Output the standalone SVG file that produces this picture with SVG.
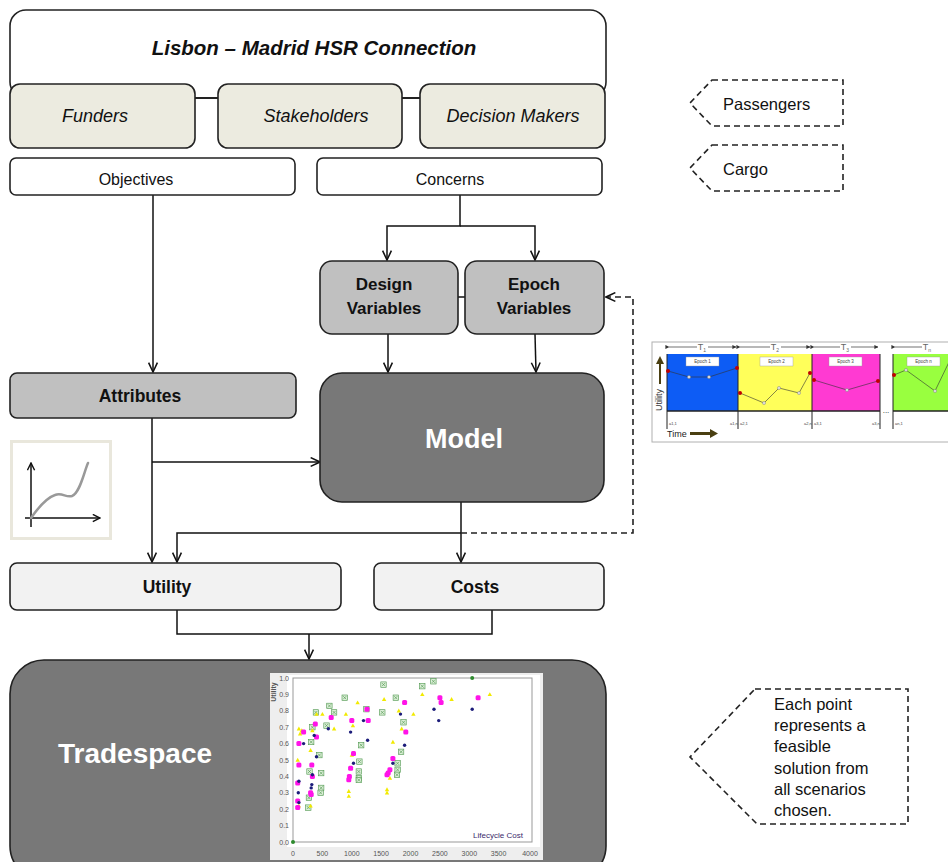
<svg xmlns="http://www.w3.org/2000/svg" width="948" height="862" viewBox="0 0 948 862">
  <style>
    .box { stroke: #222; stroke-width: 1.6; }
    .white { fill: #ffffff; }
    .beige { fill: #ecebe0; }
    .grey { fill: #c0c0c0; }
    .light { fill: #f2f2f2; }
    .dark { fill: #787878; }
    .t { font-family: "Liberation Sans", Arial, sans-serif; fill: #111; text-anchor: middle; }
    .it { font-style: italic; font-size: 18px; }
    .b { font-weight: bold; }
    .wt { fill: #ffffff; font-weight: bold; }
    .conn { fill: none; stroke: #111; stroke-width: 1.5; }
    .dash { fill: none; stroke: #222; stroke-width: 1.6; stroke-dasharray: 6 4; }
    .note { font-family: "Liberation Sans", Arial, sans-serif; fill: #111; font-size: 16.5px; }
    .ax { font-family: "Liberation Sans", Arial, sans-serif; fill: #555; font-size: 7px; text-anchor: middle; }
    .tiny { font-family: "Liberation Sans", Arial, sans-serif; fill: #444; font-size: 4.5px; text-anchor: middle; }
  </style>
  <defs>
    <marker id="arr" viewBox="0 0 10 10" refX="9.5" refY="5" markerWidth="11" markerHeight="11" markerUnits="userSpaceOnUse" orient="auto">
      <path d="M1,1 L9.5,5 L1,9" fill="none" stroke="#111" stroke-width="1.4"/>
    </marker>
    <marker id="arrSmall" viewBox="0 0 10 10" refX="9" refY="5" markerWidth="9" markerHeight="9" markerUnits="userSpaceOnUse" orient="auto">
      <path d="M1,1 L9,5 L1,9" fill="none" stroke="#111" stroke-width="1.6"/>
    </marker>
    <marker id="tArr" viewBox="0 0 10 10" refX="9" refY="5" markerWidth="4" markerHeight="4" markerUnits="userSpaceOnUse" orient="auto">
      <path d="M0,0 L10,5 L0,10Z" fill="#333"/>
    </marker>
    <!-- scatter symbols -->
    <path id="py" d="M-2.2,1.7 L0,-2.2 L2.2,1.7Z" fill="#f2ea00"/>
    <rect id="pm" x="-2.5" y="-2.5" width="5" height="5" rx="1.5" fill="#ff14e8"/>
    <circle id="pn" r="1.7" fill="#1c1c7a"/>
    <g id="pg">
      <rect x="-2.7" y="-2.7" width="5.4" height="5.4" fill="#dcefd8" stroke="#4a944a" stroke-width="0.6"/>
      <path d="M-1.6,-1.6 L1.6,1.6 M1.6,-1.6 L-1.6,1.6" stroke="#4a944a" stroke-width="0.6"/>
    </g>
    <clipPath id="epochClip"><rect x="650" y="338" width="298" height="110"/></clipPath>
    <clipPath id="chartClip"><rect x="270" y="673" width="273" height="187"/></clipPath>
  </defs>

  <!-- header -->
  <g id="header">
    <rect class="box white" x="10" y="10" width="596" height="88" rx="16"/>
    <text class="t b" x="314" y="55" font-size="20.5" font-style="italic">Lisbon – Madrid HSR Connection</text>
  </g>

  <g id="connectors">
    <!-- peer links in the header row -->
    <line class="conn" x1="195" y1="98" x2="218" y2="98"/>
    <line class="conn" x1="402" y1="98" x2="420" y2="98"/>
    <!-- objectives to attributes -->
    <line class="conn" x1="153" y1="195" x2="153" y2="372" marker-end="url(#arr)"/>
    <!-- concerns split -->
    <polyline class="conn" points="460,195 460,226 387,226 387,260" marker-end="url(#arr)"/>
    <polyline class="conn" points="460,226 535,226 535,260" marker-end="url(#arr)"/>
    <line class="conn" x1="458" y1="297" x2="465" y2="297"/>
    <!-- variables to model -->
    <line class="conn" x1="388" y1="334" x2="388" y2="372" marker-end="url(#arr)"/>
    <line class="conn" x1="535" y1="334" x2="536" y2="372" marker-end="url(#arr)"/>
    <!-- attributes to utility and model -->
    <line class="conn" x1="152" y1="418" x2="152" y2="562" marker-end="url(#arr)"/>
    <line class="conn" x1="152" y1="462" x2="320" y2="462" marker-end="url(#arr)"/>
    <!-- model to costs and utility -->
    <line class="conn" x1="461" y1="502" x2="461" y2="562" marker-end="url(#arr)"/>
    <polyline class="conn" points="461,533 177,533 177,562" marker-end="url(#arr)"/>
    <!-- feedback to epoch variables -->
    <polyline class="dash" points="461,533 633,533 633,297 606,297" marker-end="url(#arr)"/>
    <!-- utility and costs to tradespace -->
    <polyline class="conn" points="177,610 177,634 492,634 492,610"/>
    <line class="conn" x1="309" y1="634" x2="309" y2="659" marker-end="url(#arr)"/>
  </g>

  <g id="funders">
    <rect class="box beige" x="10" y="84" width="185" height="64" rx="10"/>
    <text class="t it" x="95" y="122">Funders</text>
  </g>
  <g id="stakeholders">
    <rect class="box beige" x="218" y="84" width="184" height="64" rx="10"/>
    <text class="t it" x="316" y="122">Stakeholders</text>
  </g>
  <g id="decision-makers">
    <rect class="box beige" x="420" y="84" width="185" height="64" rx="10"/>
    <text class="t it" x="513" y="122">Decision Makers</text>
  </g>

  <g id="objectives">
    <rect class="box white" x="10" y="158" width="285" height="37" rx="6"/>
    <text class="t" x="136" y="185" font-size="16">Objectives</text>
  </g>
  <g id="concerns">
    <rect class="box white" x="317" y="158" width="285" height="37" rx="6"/>
    <text class="t" x="450" y="185" font-size="16">Concerns</text>
  </g>

  <g id="design-variables">
    <rect class="box grey" x="320" y="261" width="138" height="73" rx="12"/>
    <text class="t b" x="384" y="290" font-size="17">Design</text>
    <text class="t b" x="384" y="314" font-size="17">Variables</text>
  </g>
  <g id="epoch-variables">
    <rect class="box grey" x="465" y="261" width="139" height="73" rx="12"/>
    <text class="t b" x="534" y="290" font-size="17">Epoch</text>
    <text class="t b" x="534" y="314" font-size="17">Variables</text>
  </g>

  <g id="attributes">
    <rect class="box grey" x="10" y="373" width="286" height="45" rx="7"/>
    <text class="t b" x="140" y="402" font-size="17.5">Attributes</text>
  </g>

  <g id="model">
    <rect class="box dark" x="320" y="373" width="284" height="129" rx="22"/>
    <text class="t wt" x="464" y="448" font-size="27">Model</text>
  </g>

  <!-- value function sketch -->
  <g id="value-curve">
    <rect x="11.5" y="441.5" width="99" height="97" fill="#ffffff" stroke="#e9e7dc" stroke-width="3"/>
    <line x1="31" y1="527" x2="31" y2="463" stroke="#111" stroke-width="1.5" marker-end="url(#arrSmall)"/>
    <line x1="25" y1="518" x2="100" y2="518" stroke="#111" stroke-width="1.5" marker-end="url(#arrSmall)"/>
    <path d="M31,518 C38,508 46,498 55,495 C62,492 66,498 72,496 C80,493 84,472 88,463" fill="none" stroke="#999" stroke-width="2.5" stroke-linecap="round"/>
  </g>

  <g id="utility">
    <rect class="box light" x="10" y="563" width="331" height="47" rx="7"/>
    <text class="t b" x="167" y="593" font-size="17.5">Utility</text>
  </g>
  <g id="costs">
    <rect class="box light" x="374" y="563" width="230" height="47" rx="7"/>
    <text class="t b" x="475" y="593" font-size="17.5">Costs</text>
  </g>

  <g id="tradespace">
    <rect class="box dark" x="10" y="660" width="596" height="220" rx="34"/>
    <text class="t wt" x="135" y="763" font-size="28">Tradespace</text>
    <!-- embedded scatter chart -->
    <g clip-path="url(#chartClip)">
      <rect x="270" y="673" width="273" height="190" fill="#eeeeee"/>
      <rect x="287" y="675" width="253" height="172" fill="#ffffff"/>
      <rect x="293" y="678" width="239" height="164" fill="none" stroke="#999" stroke-width="1"/>
      <g class="ax" text-anchor="end">
        <text x="289" y="680.5" text-anchor="end">1.0</text>
        <text x="289" y="696.9" text-anchor="end">0.9</text>
        <text x="289" y="713.3" text-anchor="end">0.8</text>
        <text x="289" y="729.7" text-anchor="end">0.7</text>
        <text x="289" y="746.1" text-anchor="end">0.6</text>
        <text x="289" y="762.5" text-anchor="end">0.5</text>
        <text x="289" y="778.9" text-anchor="end">0.4</text>
        <text x="289" y="795.3" text-anchor="end">0.3</text>
        <text x="289" y="811.7" text-anchor="end">0.2</text>
        <text x="289" y="828.1" text-anchor="end">0.1</text>
        <text x="289" y="844.5" text-anchor="end">0.0</text>
      </g>
      <g class="ax">
        <text x="293" y="856">0</text>
        <text x="322.4" y="856">500</text>
        <text x="351.8" y="856">1000</text>
        <text x="381.1" y="856">1500</text>
        <text x="410.5" y="856">2000</text>
        <text x="439.9" y="856">2500</text>
        <text x="469.3" y="856">3000</text>
        <text x="498.6" y="856">3500</text>
        <text x="530" y="856">4000</text>
      </g>
      <text class="ax" x="276" y="692" font-weight="bold" fill="#888" transform="rotate(-90 276 692)">Utility</text>
      <text x="498" y="838" font-family="Liberation Sans, Arial, sans-serif" font-size="8" fill="#3a2a6a" text-anchor="middle">Lifecycle Cost</text>

      <g id="pts-green">
        <use href="#pg" x="308.3" y="807.6"/><use href="#pg" x="309.5" y="771.5"/><use href="#pg" x="308.9" y="797.7"/>
        <use href="#pg" x="311.2" y="742"/><use href="#pg" x="312.4" y="727.2"/><use href="#pg" x="315.9" y="712.4"/>
        <use href="#pg" x="319.4" y="755.1"/><use href="#pg" x="321.2" y="773.1"/><use href="#pg" x="321.2" y="787.9"/>
        <use href="#pg" x="320.6" y="792.8"/><use href="#pg" x="326.5" y="725.6"/><use href="#pg" x="329.4" y="705.9"/>
        <use href="#pg" x="334.1" y="712.4"/><use href="#pg" x="344.7" y="697.7"/><use href="#pg" x="359.4" y="761.6"/>
        <use href="#pg" x="358.8" y="771.5"/><use href="#pg" x="358.8" y="778"/><use href="#pg" x="358.8" y="780"/>
        <use href="#pg" x="361.2" y="745.2"/><use href="#pg" x="366.4" y="709.2"/><use href="#pg" x="382.3" y="712.4"/>
        <use href="#pg" x="383.5" y="684.6"/><use href="#pg" x="395.8" y="697.7"/><use href="#pg" x="397.6" y="763.3"/>
        <use href="#pg" x="397.6" y="769.8"/><use href="#pg" x="397" y="774.8"/><use href="#pg" x="401.1" y="751.8"/>
        <use href="#pg" x="403.5" y="722.3"/><use href="#pg" x="422.3" y="686.2"/><use href="#pg" x="433.4" y="681.3"/>
        <circle cx="472.2" cy="678" r="2" fill="#2e8b2e"/><circle cx="293" cy="842" r="2" fill="#2e8b2e"/>
      </g>
      <g id="pts-yellow">
        <use href="#py" x="298.9" y="728.8"/><use href="#py" x="300.1" y="733.8"/><use href="#py" x="297.7" y="760"/>
        <use href="#py" x="298.9" y="805.9"/><use href="#py" x="310.6" y="750.2"/><use href="#py" x="312.4" y="730.5"/>
        <use href="#py" x="316.5" y="714.1"/><use href="#py" x="322.4" y="714.1"/><use href="#py" x="334.1" y="728.8"/>
        <use href="#py" x="345.9" y="714.1"/><use href="#py" x="351.8" y="755.1"/><use href="#py" x="352.9" y="725.6"/>
        <use href="#py" x="357.6" y="702.6"/><use href="#py" x="348.8" y="791.2"/><use href="#py" x="348.8" y="796.1"/>
        <use href="#py" x="384.1" y="699.3"/><use href="#py" x="387" y="789.5"/><use href="#py" x="387" y="792.8"/>
        <use href="#py" x="389.9" y="778"/><use href="#py" x="392.9" y="742"/><use href="#py" x="398.8" y="710.8"/>
        <use href="#py" x="401.7" y="728.8"/><use href="#py" x="413.4" y="714.1"/><use href="#py" x="422.3" y="694.4"/>
        <use href="#py" x="451.6" y="699.3"/><use href="#py" x="489.8" y="694.4"/><use href="#py" x="310.6" y="805.9"/>
        <use href="#py" x="301.8" y="730.5"/>
      </g>
      <g id="pts-magenta">
        <use href="#pm" x="298.9" y="743.6"/><use href="#pm" x="298.9" y="764.9"/><use href="#pm" x="297.7" y="783"/>
        <use href="#pm" x="297.7" y="801"/><use href="#pm" x="297.7" y="807.6"/><use href="#pm" x="303.6" y="732.1"/>
        <use href="#pm" x="311.8" y="764.9"/><use href="#pm" x="312.4" y="776.4"/><use href="#pm" x="310.6" y="792.8"/>
        <use href="#pm" x="311.2" y="794.4"/><use href="#pm" x="315.3" y="723.9"/><use href="#pm" x="316.5" y="737"/>
        <use href="#pm" x="331.2" y="717.4"/><use href="#pm" x="351.8" y="720.6"/><use href="#pm" x="353.5" y="753.4"/>
        <use href="#pm" x="350.6" y="768.2"/><use href="#pm" x="349.4" y="776.4"/><use href="#pm" x="348.8" y="779.7"/>
        <use href="#pm" x="367" y="709.2"/><use href="#pm" x="368.2" y="720.6"/><use href="#pm" x="389.9" y="769.8"/>
        <use href="#pm" x="388.2" y="773.1"/><use href="#pm" x="387" y="774.8"/><use href="#pm" x="392.9" y="758.4"/>
        <use href="#pm" x="404.6" y="702.6"/><use href="#pm" x="405.8" y="732.1"/><use href="#pm" x="439.9" y="697.7"/>
        <use href="#pm" x="441.1" y="702.6"/><use href="#pm" x="478.1" y="697.7"/>
      </g>
      <g id="pts-navy">
        <use href="#pn" x="298.9" y="781.3"/><use href="#pn" x="298.3" y="792.8"/><use href="#pn" x="298.9" y="802.6"/>
        <use href="#pn" x="303.6" y="743.6"/><use href="#pn" x="312.4" y="774.8"/><use href="#pn" x="311.8" y="784.6"/>
        <use href="#pn" x="311.2" y="787.9"/><use href="#pn" x="316.5" y="756.7"/><use href="#pn" x="314.2" y="735.4"/>
        <use href="#pn" x="328.3" y="728.8"/><use href="#pn" x="350.6" y="732.1"/><use href="#pn" x="353.5" y="763.3"/>
        <use href="#pn" x="363.5" y="720.6"/><use href="#pn" x="367.6" y="740.3"/><use href="#pn" x="392.9" y="763.3"/>
        <use href="#pn" x="400.5" y="714.1"/><use href="#pn" x="404.6" y="745.2"/><use href="#pn" x="434" y="709.2"/>
        <use href="#pn" x="438.7" y="720.6"/><use href="#pn" x="472.2" y="709.2"/>
      </g>
    </g>
  </g>

  <!-- callouts -->
  <g id="passengers">
    <polygon class="dash" points="712,80 843,80 843,126 712,126 690,103"/>
    <text class="note" x="723" y="110">Passengers</text>
  </g>
  <g id="cargo">
    <polygon class="dash" points="712,145 843,145 843,191 712,191 690,168"/>
    <text class="note" x="723" y="175">Cargo</text>
  </g>
  <g id="tradespace-note">
    <polygon class="dash" points="755,689 908,689 908,824 757,824 690,757"/>
    <text class="note" x="774" y="710">Each point</text>
    <text class="note" x="774" y="731">represents a</text>
    <text class="note" x="774" y="752">feasible</text>
    <text class="note" x="774" y="774">solution from</text>
    <text class="note" x="774" y="795">all scenarios</text>
    <text class="note" x="774" y="816">chosen.</text>
  </g>

  <!-- epoch-era timeline -->
  <g id="epoch-timeline" clip-path="url(#epochClip)">
    <rect x="652" y="342" width="310" height="100" fill="#ffffff" stroke="#b0b0b0" stroke-width="1"/>
    <rect x="667" y="354" width="71" height="57" fill="#0d5cf5"/>
    <rect x="738" y="354" width="74" height="57" fill="#ffff5a"/>
    <rect x="812" y="354" width="68" height="57" fill="#ff3ad2"/>
    <rect x="893" y="354" width="70" height="57" fill="#99ff3f"/>
    <g stroke="#222" stroke-width="1">
      <line x1="667" y1="354" x2="667" y2="429"/>
      <line x1="738" y1="354" x2="738" y2="429"/>
      <line x1="812" y1="354" x2="812" y2="429"/>
      <line x1="880" y1="354" x2="880" y2="429"/>
      <line x1="893" y1="354" x2="893" y2="429"/>
    </g>
    <line x1="667" y1="411" x2="880" y2="411" stroke="#222" stroke-width="1.6"/>
    <line x1="893" y1="411" x2="960" y2="411" stroke="#222" stroke-width="1.6"/>
    <text x="886" y="413" font-family="Liberation Sans, Arial, sans-serif" font-size="8" fill="#222" text-anchor="middle">...</text>
    <!-- period spans -->
    <g stroke="#333" stroke-width="0.7">
      <line x1="669" y1="347" x2="697" y2="347" marker-start="url(#tArr)"/>
      <line x1="708" y1="347" x2="736" y2="347" marker-end="url(#tArr)"/>
      <line x1="740" y1="347" x2="770" y2="347" marker-start="url(#tArr)"/>
      <line x1="781" y1="347" x2="810" y2="347" marker-end="url(#tArr)"/>
      <line x1="814" y1="347" x2="840" y2="347" marker-start="url(#tArr)"/>
      <line x1="851" y1="347" x2="878" y2="347" marker-end="url(#tArr)"/>
      <line x1="895" y1="347" x2="922" y2="347" marker-start="url(#tArr)"/>
    </g>
    <g font-family="Liberation Sans, Arial, sans-serif" font-size="9" fill="#666" text-anchor="middle">
      <text x="702" y="350">T<tspan font-size="5" dy="2">1</tspan></text>
      <text x="775" y="350">T<tspan font-size="5" dy="2">2</tspan></text>
      <text x="845" y="350">T<tspan font-size="5" dy="2">3</tspan></text>
      <text x="927" y="350">T<tspan font-size="5" dy="2">n</tspan></text>
    </g>
    <!-- epoch tags -->
    <g fill="#ffffff" stroke="#999" stroke-width="0.4">
      <rect x="686" y="357" width="33" height="9"/>
      <rect x="760" y="357" width="33" height="9"/>
      <rect x="829" y="357" width="33" height="9"/>
      <rect x="907" y="357" width="33" height="9"/>
    </g>
    <text class="tiny" x="702.5" y="363">Epoch 1</text>
    <text class="tiny" x="776.5" y="363">Epoch 2</text>
    <text class="tiny" x="845.5" y="363">Epoch 3</text>
    <text class="tiny" x="923.5" y="363">Epoch n</text>
    <!-- utility trajectories -->
    <g fill="none" stroke="#333" stroke-width="0.6">
      <polyline points="668,371 689,377 709,377 737,368"/>
      <polyline points="740,393 764,403 779,388 799,393 810,373"/>
      <polyline points="814,380 847,390 878,381"/>
      <polyline points="894,375 906,370 935,391 950,360"/>
    </g>
    <g fill="#c00000">
      <circle cx="668" cy="371" r="2"/><circle cx="737" cy="368" r="2"/>
      <circle cx="740" cy="393" r="2"/><circle cx="810" cy="373" r="2"/>
      <circle cx="814" cy="380" r="2"/><circle cx="878" cy="381" r="2"/>
      <circle cx="894" cy="375" r="2"/>
    </g>
    <g fill="#dddddd" stroke="#777" stroke-width="0.4">
      <circle cx="689" cy="377" r="1.6"/><circle cx="709" cy="377" r="1.6"/>
      <circle cx="764" cy="403" r="1.6"/><circle cx="779" cy="388" r="1.6"/><circle cx="799" cy="393" r="1.6"/>
      <circle cx="847" cy="390" r="1.6"/>
      <circle cx="906" cy="370" r="1.6"/><circle cx="935" cy="391" r="1.6"/>
    </g>
    <!-- axis labels -->
    <path d="M659,384 L659,364 L656,364 L660,356 L664,364 L661,364 L661,384Z" fill="#4a3f12"/>
    <text x="662" y="400" font-family="Liberation Sans, Arial, sans-serif" font-size="9" fill="#333" text-anchor="middle" transform="rotate(-90 662 400)">Utility</text>
    <text x="667" y="437" font-family="Liberation Sans, Arial, sans-serif" font-size="9" fill="#222">Time</text>
    <path d="M690,432 L710,432 L710,429 L718,433.5 L710,438 L710,435 L690,435Z" fill="#4a3f12"/>
    <g font-family="Liberation Sans, Arial, sans-serif" font-size="4" fill="#444">
      <text x="669" y="425">a1,1</text>
      <text x="730" y="425">a1,n</text>
      <text x="740" y="425">a2,1</text>
      <text x="804" y="425">a2,n</text>
      <text x="814" y="425">a3,1</text>
      <text x="872" y="425">a3,n</text>
      <text x="895" y="425">an,1</text>
    </g>
  </g>
</svg>
